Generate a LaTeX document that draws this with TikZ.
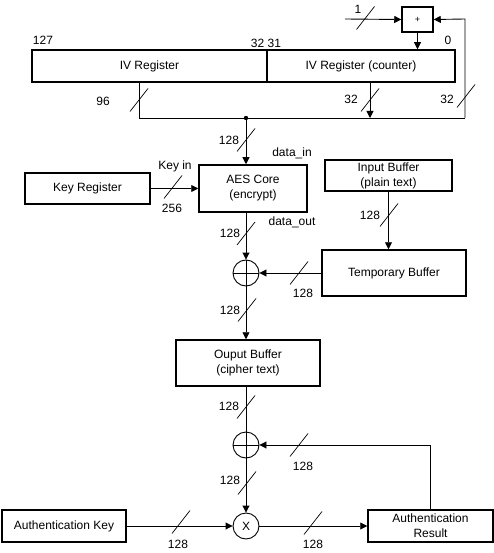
\documentclass[tikz,border=0pt]{standalone}
\usepackage{fontspec}
\setmainfont{Liberation Sans}
\usetikzlibrary{arrows.meta,calc}
\begin{document}
\begin{tikzpicture}[x=1pt,y=-1pt,
  txt/.style={font=\fontsize{12}{15}\selectfont},
  box/.style={draw,line width=1.5pt,inner sep=0pt,align=center,txt},
  lbl/.style={inner sep=0pt,txt},
  circ/.style={draw,line width=0.9pt,circle,minimum size=26pt,inner sep=0pt,txt},
  wire/.style={line width=0.9pt},
  arr/.style={wire,-{Triangle[length=7pt,width=7pt]}},
  slashline/.style={line width=0.7pt}]
\useasboundingbox (0,0) rectangle (494,553);
% boxes
\node[box,minimum width=31pt,minimum height=25pt,font=\fontsize{9}{10}\selectfont] (add) at (417.5,19.5) {+};
\node[box,minimum width=235pt,minimum height=32pt] (iv) at (149.5,66) {IV Register};
\node[box,minimum width=188pt,minimum height=32pt] (ctr) at (361,66) {IV Register (counter)};
\node[box,minimum width=108pt,minimum height=47pt] (aes) at (253,188.5) {AES Core\\(encrypt)};
\node[box,minimum width=125pt,minimum height=31pt] (key) at (87.5,188.5) {Key Register};
\node[box,minimum width=127pt,minimum height=31pt] (inb) at (388.5,175.5) {Input Buffer\\(plain text)};
\node[box,minimum width=144pt,minimum height=46pt] (tmp) at (394,273) {Temporary Buffer};
\node[box,minimum width=144pt,minimum height=46pt] (outb) at (248,363) {Ouput Buffer\\(cipher text)};
\node[box,minimum width=124pt,minimum height=32pt] (akey) at (64,526) {Authentication Key};
\node[box,minimum width=125pt,minimum height=32pt] (ares) at (430.5,526) {Authentication\\Result};
% circles
\node[circ] (x1) at (246,273) {};
\node[circ] (x2) at (246,445) {};
\node[circ] (mul) at (246,526) {X};
\draw[wire] (x1.north) -- (x1.south) (x1.west) -- (x1.east);
\draw[wire] (x2.north) -- (x2.south) (x2.west) -- (x2.east);
% coordinates
\coordinate (one) at (345,19);
\coordinate (b1) at (139,118);
\coordinate (b2) at (465,118);
\coordinate (jn) at (246,118);
\coordinate (c1) at (370,118);
\coordinate (ivx) at (139,82);
\coordinate (fbt) at (465,19);
\coordinate (rup) at (ares.north |- x2);
% connectors
\draw[arr] (one) -- (add.west);
\draw[arr] (b2) -- (fbt) -- (add.east);
\draw[arr] (add.south) -- (add.south |- ctr.north);
\draw[wire] (ivx) -- (b1) -- (b2);
\draw[arr] (c1 |- ctr.south) -- (c1);
\fill (jn) circle (2.2pt);
\draw[arr] (jn) -- (jn |- aes.north);
\draw[arr] (key.east) -- (key.east -| aes.west);
\draw[arr] (jn |- aes.south) -- (x1.north);
\draw[arr] (inb.south) -- (inb.south |- tmp.north);
\draw[arr] (tmp.west |- x1) -- (x1.east);
\draw[arr] (x1.south) -- (x1.south |- outb.north);
\draw[wire] (x1.south |- outb.south) -- (x2.north);
\draw[arr] (ares.north) -- (rup) -- (x2.east);
\draw[arr] (x2.south) -- (mul.north);
\draw[arr] (akey.east) -- (mul.west);
\draw[arr] (mul.east) -- (mul.east -| ares.west);
% bus-width slashes
\foreach \p in {(365.5,18),(139,100),(370,100),(466,96),(246,140),(173,187),(246,233.5),(389,215),(299,273),(247,310),(246,407),(299,445),(247,483),(181,522),(313,523)}
  \draw[slashline] \p +(-9,11.5) -- +(9,-11.5);
% labels
\node[lbl] (l1) at (358,9) {1};
\node[lbl] (l127) at (43,40) {127};
\node[lbl] (l3231) at (266,43) {32 31};
\node[lbl] (l0) at (448,40) {0};
\node[lbl] (l96) at (103,101) {96};
\node[lbl] (l32a) at (351,99) {32};
\node[lbl] (l32b) at (447,99) {32};
\node[lbl] (l128a) at (229,140) {128};
\node[lbl] (ldin) at (292,153) {data\_in};
\node[lbl] (lkin) at (175,166) {Key in};
\node[lbl] (l256) at (172,208) {256};
\node[lbl] (l128b) at (230,233) {128};
\node[lbl] (ldout) at (292,222) {data\_out};
\node[lbl] (l128c) at (370,215) {128};
\node[lbl] (l128d) at (303,293) {128};
\node[lbl] (l128e) at (230,310) {128};
\node[lbl] (l128f) at (229,406) {128};
\node[lbl] (l128g) at (303,466) {128};
\node[lbl] (l128h) at (230,480) {128};
\node[lbl] (l128i) at (178,544) {128};
\node[lbl] (l128j) at (313,544) {128};
\end{tikzpicture}
\end{document}
